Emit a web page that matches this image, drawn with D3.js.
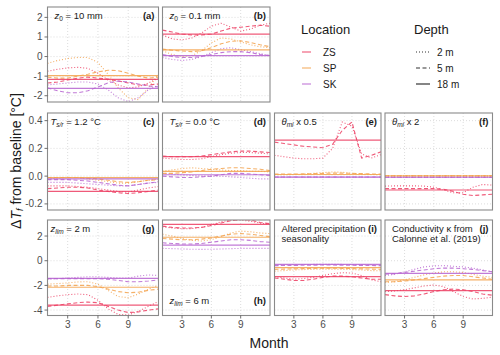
<!DOCTYPE html>
<html>
<head>
<meta charset="utf-8">
<script src="https://d3js.org/d3.v7.min.js"></script>
<style>
  body { margin: 0; background: #fff; }
  text { font-family: "Liberation Sans", Arial, sans-serif; }
  .tick-label { font-size: 10px; fill: #4d4d4d; }
  .tag { font-size: 9.5px; fill: #1a1a1a; }
  .ptag { font-size: 9.5px; font-weight: bold; fill: #1a1a1a; }
</style>
</head>
<body>
<script>
// data: months, groups, per-panel series (values in degC, order: 2 m, 5 m, 18 m)
const months = [1, 2, 3, 4, 5, 6, 7, 8, 9, 10, 11, 12];
const locations = ["ZS", "SP", "SK"];
const depths = ["2 m", "5 m", "18 m"];
const xTicks = [3, 6, 9];

const panelA = {
  ZS: [[-0.75,-0.65,-0.58,-0.55,-0.6,-0.85,-1.2,-1.45,-1.6,-1.55,-1.35,-1.1],
       [-1.35,-1.3,-1.2,-1.1,-1.05,-1.1,-1.15,-1.25,-1.35,-1.45,-1.45,-1.4],
       [-1.17,-1.17,-1.17,-1.17,-1.17,-1.17,-1.17,-1.17,-1.17,-1.17,-1.17,-1.17]],
  SP: [[-0.35,-0.2,-0.1,-0.05,-0.05,-0.3,-0.9,-1.6,-2.1,-2.2,-1.6,-0.9],
       [-1.05,-1.1,-1.1,-1.0,-0.9,-0.78,-0.7,-0.72,-0.85,-1.0,-1.1,-1.05],
       [-0.97,-0.97,-0.97,-0.97,-0.97,-0.97,-0.97,-0.97,-0.97,-0.97,-0.97,-0.97]],
  SK: [[-1.45,-1.4,-1.35,-1.3,-1.3,-1.4,-1.7,-2.1,-2.3,-2.1,-1.7,-1.45],
       [-1.6,-1.75,-1.85,-1.85,-1.75,-1.55,-1.35,-1.25,-1.3,-1.4,-1.5,-1.55],
       [-1.62,-1.62,-1.62,-1.62,-1.62,-1.62,-1.62,-1.62,-1.62,-1.62,-1.62,-1.62]]
};
const panelB = {
  ZS: [[1.1,0.9,0.85,0.95,1.2,1.55,1.7,1.5,1.3,1.4,1.6,1.7],
       [1.35,1.25,1.15,1.1,1.1,1.15,1.3,1.45,1.5,1.55,1.6,1.55],
       [1.15,1.15,1.15,1.15,1.15,1.15,1.15,1.15,1.15,1.15,1.15,1.15]],
  SP: [[0.3,0.1,0.0,0.05,0.3,0.7,0.95,0.9,0.75,0.6,0.5,0.45],
       [0.38,0.32,0.28,0.25,0.3,0.45,0.65,0.78,0.8,0.72,0.6,0.5],
       [0.34,0.34,0.34,0.34,0.34,0.34,0.34,0.34,0.34,0.34,0.34,0.34]],
  SK: [[-0.05,-0.15,-0.2,-0.15,0.0,0.2,0.4,0.45,0.35,0.25,0.15,0.05],
       [0.1,0.0,-0.05,-0.05,0.0,0.1,0.2,0.25,0.25,0.2,0.1,0.05],
       [0.05,0.05,0.05,0.05,0.05,0.05,0.05,0.05,0.05,0.05,0.05,0.05]]
};
const panelC = {
  ZS: [[-0.07,-0.07,-0.07,-0.075,-0.08,-0.09,-0.1,-0.11,-0.115,-0.1,-0.085,-0.075],
       [-0.09,-0.085,-0.08,-0.08,-0.085,-0.1,-0.11,-0.12,-0.125,-0.12,-0.11,-0.1],
       [-0.11,-0.11,-0.11,-0.11,-0.11,-0.11,-0.11,-0.11,-0.11,-0.11,-0.11,-0.11]],
  SP: [[-0.02,-0.015,-0.01,-0.01,-0.02,-0.03,-0.04,-0.05,-0.05,-0.04,-0.03,-0.02],
       [-0.01,-0.01,-0.01,-0.01,-0.015,-0.02,-0.03,-0.04,-0.045,-0.04,-0.03,-0.025],
       [-0.01,-0.01,-0.01,-0.01,-0.01,-0.01,-0.01,-0.01,-0.01,-0.01,-0.01,-0.01]],
  SK: [[-0.045,-0.045,-0.045,-0.05,-0.055,-0.06,-0.065,-0.07,-0.07,-0.06,-0.05,-0.045],
       [-0.025,-0.025,-0.025,-0.03,-0.035,-0.045,-0.055,-0.065,-0.07,-0.06,-0.05,-0.04],
       [-0.02,-0.02,-0.02,-0.02,-0.02,-0.02,-0.02,-0.02,-0.02,-0.02,-0.02,-0.02]]
};
const panelD = {
  ZS: [[0.13,0.125,0.12,0.12,0.125,0.14,0.155,0.165,0.17,0.17,0.165,0.16],
       [0.145,0.14,0.14,0.14,0.145,0.155,0.165,0.175,0.18,0.18,0.175,0.17],
       [0.14,0.14,0.14,0.14,0.14,0.14,0.14,0.14,0.14,0.14,0.14,0.14]],
  SP: [[0.035,0.045,0.055,0.06,0.055,0.05,0.045,0.04,0.04,0.035,0.035,0.03],
       [0.02,0.02,0.025,0.03,0.04,0.05,0.055,0.06,0.06,0.055,0.05,0.04],
       [0.035,0.035,0.035,0.035,0.035,0.035,0.035,0.035,0.035,0.035,0.035,0.035]],
  SK: [[0.02,0.015,0.01,0.005,0.0,0.0,0.0,-0.005,-0.01,-0.015,-0.02,-0.02],
       [0.0,-0.005,-0.01,-0.01,-0.005,0.0,0.01,0.02,0.02,0.015,0.01,0.005],
       [0.01,0.01,0.01,0.01,0.01,0.01,0.01,0.01,0.01,0.01,0.01,0.01]]
};
const panelE = {
  ZS: [[0.15,0.14,0.13,0.125,0.125,0.13,0.2,0.39,0.36,0.16,0.13,0.155],
       [0.245,0.235,0.225,0.215,0.21,0.205,0.23,0.33,0.39,0.13,0.15,0.175],
       [0.26,0.26,0.26,0.26,0.26,0.26,0.26,0.26,0.26,0.26,0.26,0.26]],
  SP: [[0.01,0.01,0.012,0.015,0.02,0.025,0.03,0.028,0.02,0.015,0.012,0.01],
       [0.015,0.015,0.015,0.016,0.018,0.02,0.022,0.022,0.02,0.018,0.016,0.015],
       [0.012,0.012,0.012,0.012,0.012,0.012,0.012,0.012,0.012,0.012,0.012,0.012]],
  SK: [[-0.008,-0.008,-0.008,-0.008,-0.008,-0.008,-0.008,-0.008,-0.008,-0.008,-0.008,-0.008],
       [-0.006,-0.006,-0.006,-0.006,-0.006,-0.006,-0.006,-0.006,-0.006,-0.006,-0.006,-0.006],
       [-0.007,-0.007,-0.007,-0.007,-0.007,-0.007,-0.007,-0.007,-0.007,-0.007,-0.007,-0.007]]
};
const panelF = {
  ZS: [[-0.072,-0.07,-0.07,-0.07,-0.072,-0.08,-0.1,-0.12,-0.12,-0.08,-0.06,-0.065],
       [-0.09,-0.09,-0.09,-0.09,-0.09,-0.09,-0.095,-0.11,-0.13,-0.14,-0.135,-0.13],
       [-0.1,-0.1,-0.1,-0.1,-0.1,-0.1,-0.1,-0.1,-0.1,-0.1,-0.1,-0.1]],
  SP: [[0.002,0.002,0.002,0.003,0.003,0.003,0.003,0.003,0.002,0.002,0.002,0.002],
       [0.003,0.003,0.003,0.003,0.003,0.003,0.003,0.003,0.003,0.003,0.003,0.003],
       [0.002,0.002,0.002,0.002,0.002,0.002,0.002,0.002,0.002,0.002,0.002,0.002]],
  SK: [[-0.008,-0.008,-0.008,-0.008,-0.008,-0.008,-0.008,-0.008,-0.008,-0.008,-0.008,-0.008],
       [-0.008,-0.008,-0.008,-0.008,-0.008,-0.008,-0.008,-0.008,-0.008,-0.008,-0.008,-0.008],
       [-0.008,-0.008,-0.008,-0.008,-0.008,-0.008,-0.008,-0.008,-0.008,-0.008,-0.008,-0.008]]
};
const panelG = {
  ZS: [[-2.97,-2.85,-2.75,-2.7,-2.75,-3.2,-3.9,-4.35,-4.4,-4.1,-3.7,-3.3],
       [-3.7,-3.6,-3.5,-3.4,-3.35,-3.4,-3.7,-4.0,-4.2,-4.15,-4.0,-3.9],
       [-3.6,-3.6,-3.6,-3.6,-3.6,-3.6,-3.6,-3.6,-3.6,-3.6,-3.6,-3.6]],
  SP: [[-1.9,-1.85,-1.8,-1.72,-1.7,-1.9,-2.4,-2.9,-3.0,-2.7,-2.3,-2.0],
       [-2.05,-2.05,-2.0,-2.0,-2.0,-2.1,-2.3,-2.5,-2.6,-2.55,-2.4,-2.3],
       [-2.15,-2.15,-2.15,-2.15,-2.15,-2.15,-2.15,-2.15,-2.15,-2.15,-2.15,-2.15]],
  SK: [[-1.5,-1.45,-1.4,-1.35,-1.3,-1.3,-1.35,-1.4,-1.4,-1.25,-1.15,-1.2],
       [-1.45,-1.45,-1.45,-1.45,-1.45,-1.45,-1.5,-1.6,-1.7,-1.7,-1.65,-1.55],
       [-1.43,-1.43,-1.43,-1.43,-1.43,-1.43,-1.43,-1.43,-1.43,-1.43,-1.43,-1.43]]
};
const panelH = {
  ZS: [[2.75,2.65,2.6,2.6,2.7,2.9,3.15,3.3,3.3,3.2,3.05,2.95],
       [2.8,2.7,2.65,2.65,2.7,2.85,3.05,3.25,3.35,3.3,3.1,3.0],
       [2.95,2.95,2.95,2.95,2.95,2.95,2.95,2.95,2.95,2.95,2.95,2.95]],
  SP: [[2.15,2.0,1.8,1.65,1.6,1.7,1.95,2.25,2.4,2.35,2.25,2.2],
       [1.8,1.75,1.7,1.7,1.75,1.85,2.0,2.15,2.2,2.15,2.05,1.95],
       [1.9,1.9,1.9,1.9,1.9,1.9,1.9,1.9,1.9,1.9,1.9,1.9]],
  SK: [[1.0,0.98,0.95,0.93,0.92,0.93,0.95,0.98,1.0,1.0,1.0,1.0],
       [1.45,1.4,1.35,1.35,1.4,1.5,1.6,1.7,1.7,1.65,1.55,1.5],
       [1.27,1.27,1.27,1.27,1.27,1.27,1.27,1.27,1.27,1.27,1.27,1.27]]
};
const panelI = {
  ZS: [[-1.3,-1.4,-1.5,-1.45,-1.35,-1.2,-1.05,-0.97,-1.0,-1.2,-1.55,-1.7],
       [-1.4,-1.5,-1.6,-1.6,-1.5,-1.35,-1.25,-1.25,-1.3,-1.4,-1.5,-1.5],
       [-1.29,-1.29,-1.29,-1.29,-1.29,-1.29,-1.29,-1.29,-1.29,-1.29,-1.29,-1.29]],
  SP: [[-0.85,-0.8,-0.75,-0.72,-0.7,-0.68,-0.68,-0.7,-0.72,-0.75,-0.8,-0.82],
       [-0.7,-0.68,-0.66,-0.64,-0.62,-0.6,-0.6,-0.62,-0.64,-0.66,-0.68,-0.7],
       [-0.56,-0.56,-0.56,-0.56,-0.56,-0.56,-0.56,-0.56,-0.56,-0.56,-0.56,-0.56]],
  SK: [[-0.35,-0.33,-0.32,-0.31,-0.3,-0.3,-0.3,-0.3,-0.31,-0.32,-0.34,-0.35],
       [-0.4,-0.39,-0.38,-0.37,-0.36,-0.35,-0.35,-0.36,-0.37,-0.38,-0.39,-0.4],
       [-0.29,-0.29,-0.29,-0.29,-0.29,-0.29,-0.29,-0.29,-0.29,-0.29,-0.29,-0.29]]
};
const panelJ = {
  ZS: [[-2.5,-2.45,-2.35,-2.2,-2.05,-1.97,-2.1,-2.5,-2.9,-3.1,-3.05,-2.95],
       [-2.75,-2.85,-2.9,-2.85,-2.7,-2.5,-2.35,-2.3,-2.35,-2.5,-2.7,-2.8],
       [-2.43,-2.43,-2.43,-2.43,-2.43,-2.43,-2.43,-2.43,-2.43,-2.43,-2.43,-2.43]],
  SP: [[-1.75,-1.7,-1.55,-1.35,-1.15,-1.0,-0.9,-0.9,-0.95,-1.1,-1.25,-1.35],
       [-1.7,-1.7,-1.65,-1.55,-1.45,-1.35,-1.25,-1.2,-1.2,-1.3,-1.4,-1.5],
       [-1.56,-1.56,-1.56,-1.56,-1.56,-1.56,-1.56,-1.56,-1.56,-1.56,-1.56,-1.56]],
  SK: [[-1.2,-1.1,-0.9,-0.7,-0.5,-0.42,-0.4,-0.45,-0.5,-0.6,-0.75,-0.9],
       [-1.1,-1.05,-0.95,-0.85,-0.75,-0.65,-0.6,-0.6,-0.65,-0.7,-0.8,-0.9],
       [-1.02,-1.02,-1.02,-1.02,-1.02,-1.02,-1.02,-1.02,-1.02,-1.02,-1.02,-1.02]]
};

// y ticks per row
const rowTicks = [[-2, -1, 0, 1, 2], [-0.2, 0, 0.2, 0.4], [-4, -2, 0, 2]];
const rowDomains = [[-2.32, 2.53], [-0.244, 0.455], [-4.44, 3.3]];

// panel labels: segments of [text, style] with style "" | "i" (italic) | "s" (italic subscript) | "n" (subscript)
const panelTags = ["(a)", "(b)", "(c)", "(d)", "(e)", "(f)", "(g)", "(h)", "(i)", "(j)"];
const panelTitles = [
  [[["z", "i"], ["0", "n"], [" = 10 mm", ""]]],
  [[["z", "i"], ["0", "n"], [" = 0.1 mm", ""]]],
  [[["T", "i"], ["s/r", "s"], [" = 1.2 °C", ""]]],
  [[["T", "i"], ["s/r", "s"], [" = 0.0 °C", ""]]],
  [[["θ", "i"], ["mi", "s"], ["  x 0.5", ""]]],
  [[["θ", "i"], ["mi", "s"], ["  x 2", ""]]],
  [[["z", "i"], ["lim", "s"], [" = 2 m", ""]]],
  [[["z", "i"], ["lim", "s"], [" = 6 m", ""]]],
  [[["Altered precipitation", ""]], [["seasonality", ""]]],
  [[["Conductivity κ from", ""]], [["Calonne et al. (2019)", ""]]]
];
const panelData = [panelA, panelB, panelC, panelD, panelE, panelF, panelG, panelH, panelI, panelJ];
</script>
<script>
const W = 500, H = 355;
const colors = { ZS: "#ec3d62", SP: "#f3a24c", SK: "#b663d0" };
const dashes = { "2 m": "1,2", "5 m": "4,2.5", "18 m": null };

// layout of the facet grid
const cols = [[47.5, 158.5], [162.5, 270], [274.5, 381], [385, 492.5]];
const rows = [[7, 102], [113, 210], [220, 315.5]];
const place = [[0, 0], [0, 1], [1, 0], [1, 1], [1, 2], [1, 3], [2, 0], [2, 1], [2, 2], [2, 3]];

const svg = d3.select("body").append("svg")
  .attr("width", W).attr("height", H);

const fmtTick = (r) => (v) => {
  const s = r === 1 ? d3.format(".1f")(v) : d3.format("d")(v);
  return s.replace("−", "-");
};

function addRich(sel, segs) {
  segs.forEach(([t, st]) => {
    const ts = sel.append("tspan").text(t);
    if (st === "i") ts.attr("font-style", "italic");
    if (st === "s" || st === "n") {
      ts.attr("font-size", "6.5px").attr("baseline-shift", "-25%");
      if (st === "s") ts.attr("font-style", "italic");
    }
  });
}

panelData.forEach((pd, k) => {
  const [r, c] = place[k];
  const [x0, x1] = cols[c], [y0, y1] = rows[r];
  const x = d3.scaleLinear().domain([1, 12]).range([x0, x1]);
  const y = d3.scaleLinear().domain(rowDomains[r]).range([y1, y0]);
  const g = svg.append("g");

  g.append("clipPath").attr("id", "clip" + k)
    .append("rect").attr("x", x0).attr("y", y0).attr("width", x1 - x0).attr("height", y1 - y0);

  // grid
  g.selectAll(".gx").data(xTicks).enter().append("line")
    .attr("x1", d => x(d)).attr("x2", d => x(d)).attr("y1", y0).attr("y2", y1)
    .attr("stroke", "#d4d4d4").attr("stroke-width", 0.8).attr("stroke-dasharray", "1,2");
  g.selectAll(".gy").data(rowTicks[r]).enter().append("line")
    .attr("y1", d => y(d)).attr("y2", d => y(d)).attr("x1", x0).attr("x2", x1)
    .attr("stroke", "#d4d4d4").attr("stroke-width", 0.8).attr("stroke-dasharray", "1,2");

  // lines
  const line = d3.line().x((d, i) => x(months[i])).y(d => y(d));
  const lg = g.append("g").attr("clip-path", "url(#clip" + k + ")");
  depths.forEach((dep, di) => {
    locations.forEach(loc => {
      lg.append("path")
        .attr("d", line(pd[loc][di]))
        .attr("fill", "none")
        .attr("stroke", colors[loc])
        .attr("stroke-opacity", 0.85)
        .attr("stroke-width", di === 2 ? 1.2 : 1.1)
        .attr("stroke-dasharray", dashes[dep]);
    });
  });

  // border
  g.append("rect").attr("x", x0).attr("y", y0).attr("width", x1 - x0).attr("height", y1 - y0)
    .attr("fill", "none").attr("stroke", "#8a8a8a").attr("stroke-width", 1.1);

  // y axis on left column
  if (c === 0) {
    rowTicks[r].forEach(v => {
      g.append("line").attr("x1", x0 - 3).attr("x2", x0).attr("y1", y(v)).attr("y2", y(v))
        .attr("stroke", "#4d4d4d").attr("stroke-width", 0.8);
      g.append("text").attr("class", "tick-label")
        .attr("x", x0 - 5).attr("y", y(v)).attr("dy", "0.35em")
        .attr("text-anchor", "end").text(fmtTick(r)(v));
    });
  }
  // x axis on bottom row
  if (r === 2) {
    xTicks.forEach(v => {
      g.append("line").attr("x1", x(v)).attr("x2", x(v)).attr("y1", y1).attr("y2", y1 + 3)
        .attr("stroke", "#4d4d4d").attr("stroke-width", 0.8);
      g.append("text").attr("class", "tick-label")
        .attr("x", x(v)).attr("y", y1 + 12)
        .attr("text-anchor", "middle").text(v);
    });
  }

  // panel annotations
  const bottom = k === 7;
  const ty = bottom ? y1 - 12 : y0 + 12;
  const tx = (c === 0 && r !== 0) ? x0 + 3 : x0 + 7;
  panelTitles[k].forEach((segs, li) => {
    const t = g.append("text").attr("class", "tag")
      .attr("x", tx).attr("y", ty + li * 10);
    addRich(t, segs);
  });
  g.append("text").attr("class", "ptag")
    .attr("x", x1 - 4).attr("y", ty).attr("text-anchor", "end")
    .text(panelTags[k]);
});

// axis titles
const yt = svg.append("text")
  .attr("transform", "translate(21,161) rotate(-90)")
  .attr("text-anchor", "middle")
  .attr("font-size", "14px").attr("fill", "#1a1a1a");
yt.append("tspan").text("Δ");
yt.append("tspan").attr("font-style", "italic").text("T");
yt.append("tspan").attr("font-style", "italic").attr("font-size", "9px").attr("baseline-shift", "-25%").text("f");
yt.append("tspan").text(" from baseline [°C]");

svg.append("text").attr("x", 269).attr("y", 348)
  .attr("text-anchor", "middle").attr("font-size", "14px").attr("fill", "#1a1a1a")
  .text("Month");

// legend
const leg = svg.append("g");
leg.append("text").attr("x", 301).attr("y", 34).attr("font-size", "13px").attr("fill", "#1a1a1a").text("Location");
locations.forEach((loc, i) => {
  const yy = 52 + i * 16;
  leg.append("line").attr("x1", 302).attr("x2", 311).attr("y1", yy).attr("y2", yy)
    .attr("stroke", colors[loc]).attr("stroke-opacity", 0.8).attr("stroke-width", 1.2);
  leg.append("text").attr("x", 323).attr("y", yy).attr("dy", "0.36em")
    .attr("font-size", "10px").attr("fill", "#1a1a1a").text(loc);
});
leg.append("text").attr("x", 414).attr("y", 34).attr("font-size", "13px").attr("fill", "#1a1a1a").text("Depth");
depths.forEach((dep, i) => {
  const yy = 52 + i * 16;
  leg.append("line").attr("x1", 416).attr("x2", 430).attr("y1", yy).attr("y2", yy)
    .attr("stroke", "#333").attr("stroke-width", 1.2)
    .attr("stroke-dasharray", dashes[dep]);
  leg.append("text").attr("x", 437).attr("y", yy).attr("dy", "0.36em")
    .attr("font-size", "10px").attr("fill", "#1a1a1a").text(dep);
});
</script>
</body>
</html>
